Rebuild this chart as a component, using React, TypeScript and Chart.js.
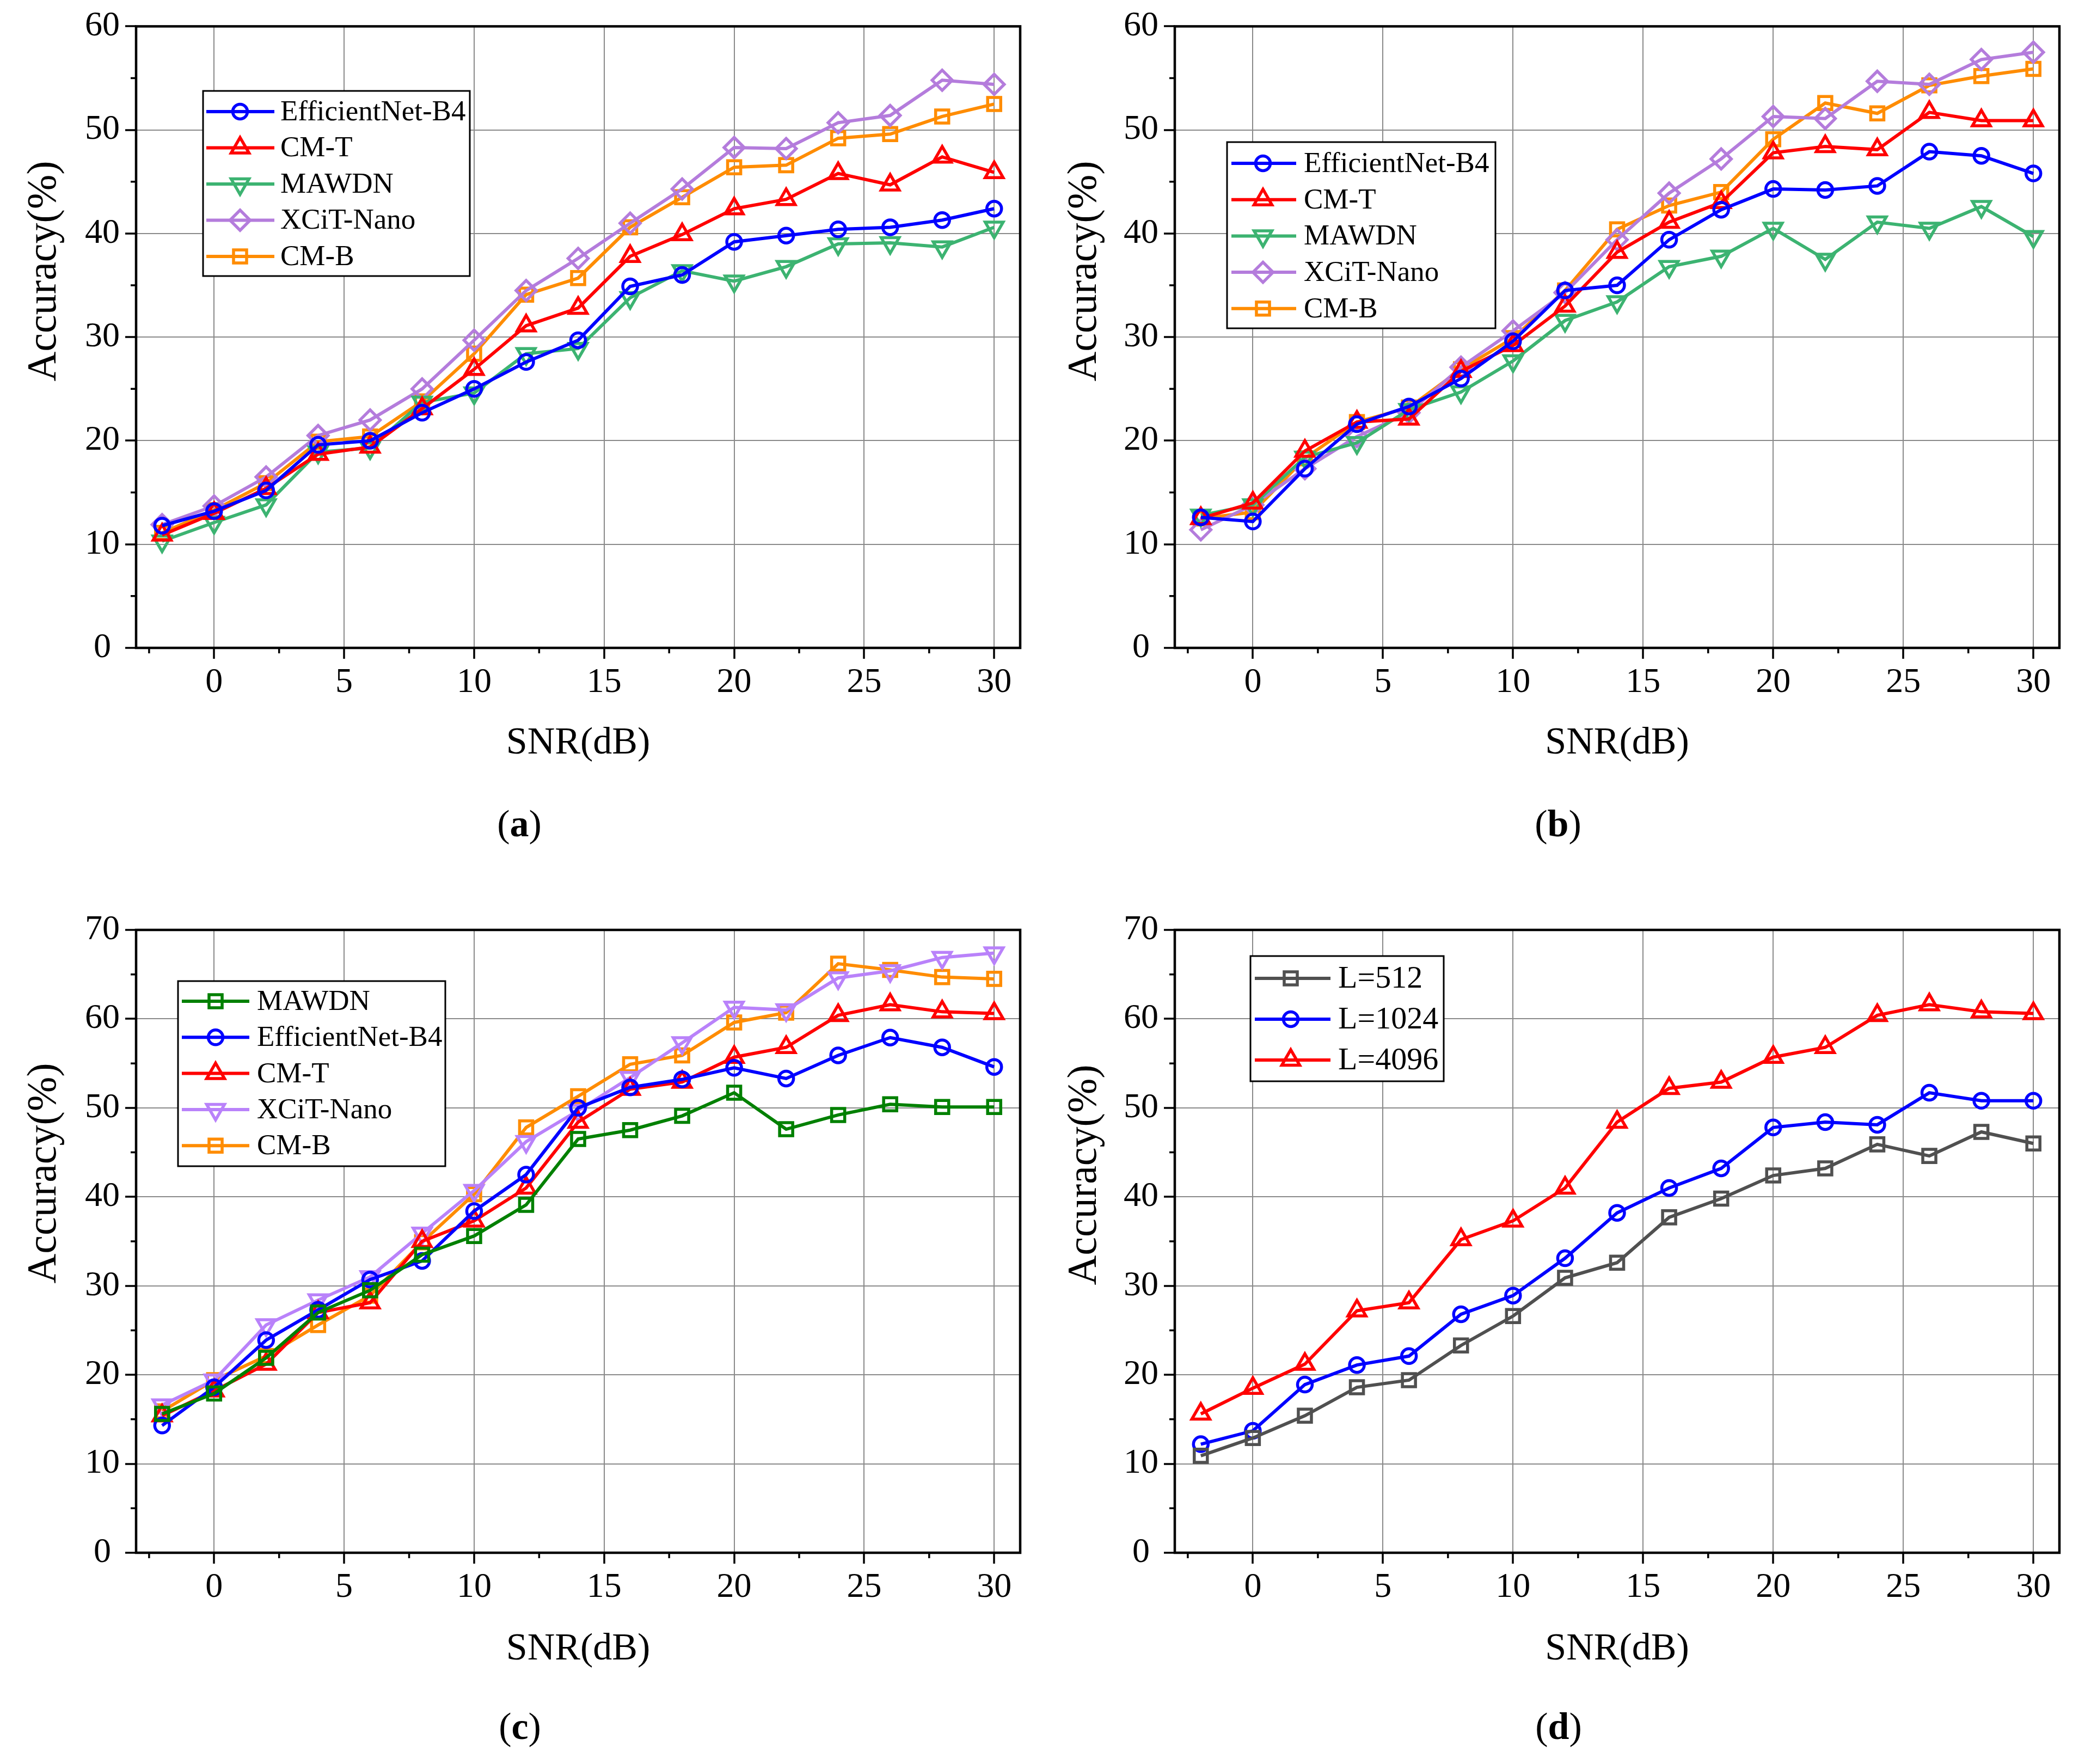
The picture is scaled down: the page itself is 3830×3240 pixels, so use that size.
import React, { useEffect, useRef } from "react";
import { Chart, registerables } from "chart.js";

Chart.register(...registerables);

const SERIF = '"Liberation Serif", "Times New Roman", serif';

// ---------- data ----------
const snrDb = [-2, 0, 2, 4, 6, 8, 10, 12, 14, 16, 18, 20, 22, 24, 26, 28, 30];
const xTickValues = [0, 5, 10, 15, 20, 25, 30];
const xMinorValues = [-2.5, 2.5, 7.5, 12.5, 17.5, 22.5, 27.5];
const yMinorAB = [5, 15, 25, 35, 45, 55];
const yMinorCD = [5, 15, 25, 35, 45, 55, 65];

// panel (a)
const aEfficientNet = [11.8, 13.2, 15.2, 19.6, 20.0, 22.7, 25.0, 27.6, 29.7, 34.9, 36.0, 39.2, 39.8, 40.4, 40.6, 41.3, 42.4];
const aCMT = [10.9, 13.0, 15.4, 18.7, 19.4, 23.1, 26.9, 31.1, 32.8, 37.8, 39.9, 42.4, 43.3, 45.8, 44.7, 47.4, 45.9];
const aMAWDN = [10.3, 12.1, 13.8, 18.9, 19.3, 23.7, 24.6, 28.4, 28.9, 33.8, 36.4, 35.4, 36.8, 39.0, 39.1, 38.7, 40.6];
const aXCiT = [11.9, 13.7, 16.5, 20.5, 22.0, 25.0, 29.7, 34.5, 37.6, 41.0, 44.3, 48.3, 48.2, 50.7, 51.4, 54.8, 54.4];
const aCMB = [11.1, 13.3, 15.9, 19.9, 20.4, 23.8, 28.4, 34.1, 35.7, 40.6, 43.5, 46.4, 46.6, 49.2, 49.6, 51.3, 52.5];

// panel (b)
const bEfficientNet = [12.6, 12.2, 17.3, 21.6, 23.3, 26.0, 29.6, 34.5, 35.0, 39.4, 42.3, 44.3, 44.2, 44.6, 47.9, 47.5, 45.8];
const bCMT = [12.5, 14.0, 19.0, 21.8, 22.1, 26.7, 29.2, 33.0, 38.2, 41.1, 43.0, 47.8, 48.4, 48.1, 51.7, 50.9, 50.9];
const bMAWDN = [12.8, 13.8, 18.4, 19.8, 23.0, 24.7, 27.7, 31.6, 33.4, 36.8, 37.8, 40.5, 37.5, 41.1, 40.5, 42.6, 39.7];
const bXCiT = [11.4, 13.8, 17.3, 20.4, 22.7, 27.1, 30.6, 34.3, 39.4, 43.9, 47.2, 51.3, 51.1, 54.7, 54.4, 56.8, 57.5];
const bCMB = [12.5, 13.1, 18.3, 21.8, 23.2, 26.9, 29.9, 34.5, 40.4, 42.7, 44.0, 49.1, 52.6, 51.6, 54.3, 55.2, 55.9];

// panel (c)
const cMAWDN = [15.6, 17.9, 21.9, 27.0, 29.5, 33.5, 35.6, 39.1, 46.5, 47.5, 49.1, 51.7, 47.6, 49.2, 50.4, 50.1, 50.1];
const cEfficientNet = [14.3, 18.6, 23.9, 27.3, 30.7, 32.8, 38.4, 42.5, 50.0, 52.3, 53.2, 54.5, 53.3, 55.9, 57.9, 56.8, 54.6];
const cCMT = [15.4, 18.2, 21.2, 27.0, 28.1, 35.0, 37.3, 41.0, 48.4, 52.1, 52.9, 55.7, 56.8, 60.4, 61.6, 60.8, 60.6];
const cXCiT = [16.6, 19.4, 25.6, 28.4, 31.0, 35.9, 40.7, 46.2, 49.7, 53.4, 57.3, 61.3, 61.0, 64.6, 65.4, 66.9, 67.4];
const cCMB = [15.9, 19.4, 22.1, 25.6, 28.9, 34.9, 40.3, 47.8, 51.3, 54.9, 55.9, 59.6, 60.7, 66.2, 65.5, 64.7, 64.5];

// panel (d)
const dL512 = [10.9, 12.9, 15.4, 18.6, 19.4, 23.3, 26.6, 30.9, 32.6, 37.7, 39.8, 42.4, 43.2, 45.9, 44.6, 47.3, 46.0];
const dL1024 = [12.2, 13.7, 18.9, 21.1, 22.1, 26.8, 28.9, 33.1, 38.2, 41.0, 43.2, 47.8, 48.4, 48.1, 51.7, 50.8, 50.8];
const dL4096 = [15.6, 18.5, 21.2, 27.2, 28.1, 35.2, 37.3, 41.0, 48.4, 52.2, 52.9, 55.7, 56.8, 60.4, 61.6, 60.8, 60.6];

// ---------- styles ----------
const BLUE = "#0000ff";
const RED = "#ff0000";
const GREEN_A = "#3cb371";
const PURPLE_A = "#b47cdc";
const ORANGE = "#ff8c00";
const GREEN_C = "#008000";
const PURPLE_C = "#b982fa";
const GRAY = "#505050";

type Marker = "circle" | "triangle" | "triangleDown" | "rect" | "rectRot";
const markerRadius: Record<Marker, number> = {
  circle: 13.5,
  triangle: 19,
  triangleDown: 19,
  rect: 17,
  rectRot: 18.5,
};

interface SeriesDef {
  label: string;
  values: number[];
  color: string;
  marker: Marker;
}

interface LegendDef {
  box: [number, number, number, number];
  y0: number;
  dy: number;
  lineX1: number;
  lineX2: number;
  markerX: number;
  textX: number;
  font: number;
}

interface PanelDef {
  id: string;
  letter: string;
  left: number;
  top: number;
  width: number;
  height: number;
  plot: { l: number; t: number; r: number; b: number };
  yMax: number;
  yMinor: number[];
  series: SeriesDef[];
  legend: LegendDef;
  yTitle: { x: number; y: number };
  xTitleY: number;
  label: { x: number; y: number };
}

const panels: PanelDef[] = [
  {
    id: "a",
    letter: "a",
    left: 0,
    top: 0,
    width: 1915,
    height: 1620,
    plot: { l: 250, t: 46, r: 1874, b: 1190 },
    yMax: 60,
    yMinor: yMinorAB,
    series: [
      { label: "EfficientNet-B4", values: aEfficientNet, color: BLUE, marker: "circle" },
      { label: "CM-T", values: aCMT, color: RED, marker: "triangle" },
      { label: "MAWDN", values: aMAWDN, color: GREEN_A, marker: "triangleDown" },
      { label: "XCiT-Nano", values: aXCiT, color: PURPLE_A, marker: "rectRot" },
      { label: "CM-B", values: aCMB, color: ORANGE, marker: "rect" },
    ],
    legend: { box: [373, 167, 863, 507], y0: 205, dy: 66.5, lineX1: 379, lineX2: 504, markerX: 441, textX: 515, font: 53 },
    yTitle: { x: 82, y: 498 },
    xTitleY: 1366,
    label: { x: 954, y: 1518 },
  },
  {
    id: "b",
    letter: "b",
    left: 1915,
    top: 0,
    width: 1915,
    height: 1620,
    plot: { l: 243, t: 46, r: 1868, b: 1190 },
    yMax: 60,
    yMinor: yMinorAB,
    series: [
      { label: "EfficientNet-B4", values: bEfficientNet, color: BLUE, marker: "circle" },
      { label: "CM-T", values: bCMT, color: RED, marker: "triangle" },
      { label: "MAWDN", values: bMAWDN, color: GREEN_A, marker: "triangleDown" },
      { label: "XCiT-Nano", values: bXCiT, color: PURPLE_A, marker: "rectRot" },
      { label: "CM-B", values: bCMB, color: ORANGE, marker: "rect" },
    ],
    legend: { box: [339, 261, 832, 603], y0: 300, dy: 66.7, lineX1: 347, lineX2: 466, markerX: 405, textX: 480, font: 53 },
    yTitle: { x: 78, y: 498 },
    xTitleY: 1366,
    label: { x: 947, y: 1518 },
  },
  {
    id: "c",
    letter: "c",
    left: 0,
    top: 1620,
    width: 1915,
    height: 1620,
    plot: { l: 250, t: 88, r: 1874, b: 1232 },
    yMax: 70,
    yMinor: yMinorCD,
    series: [
      { label: "MAWDN", values: cMAWDN, color: GREEN_C, marker: "rect" },
      { label: "EfficientNet-B4", values: cEfficientNet, color: BLUE, marker: "circle" },
      { label: "CM-T", values: cCMT, color: RED, marker: "triangle" },
      { label: "XCiT-Nano", values: cXCiT, color: PURPLE_C, marker: "triangleDown" },
      { label: "CM-B", values: cCMB, color: ORANGE, marker: "rect" },
    ],
    legend: { box: [327, 182, 818, 522], y0: 219, dy: 66.3, lineX1: 334, lineX2: 458, markerX: 396, textX: 472, font: 53 },
    yTitle: { x: 82, y: 535 },
    xTitleY: 1410,
    label: { x: 955, y: 1556 },
  },
  {
    id: "d",
    letter: "d",
    left: 1915,
    top: 1620,
    width: 1915,
    height: 1620,
    plot: { l: 243, t: 88, r: 1868, b: 1232 },
    yMax: 70,
    yMinor: yMinorCD,
    series: [
      { label: "L=512", values: dL512, color: GRAY, marker: "rect" },
      { label: "L=1024", values: dL1024, color: BLUE, marker: "circle" },
      { label: "L=4096", values: dL4096, color: RED, marker: "triangle" },
    ],
    legend: { box: [382, 136, 737, 366], y0: 177, dy: 75, lineX1: 390, lineX2: 529, markerX: 456, textX: 543, font: 58 },
    yTitle: { x: 78, y: 538 },
    xTitleY: 1410,
    label: { x: 948, y: 1556 },
  },
];

const LINE_W = 6;
const MARKER_W = 5.5;

function drawMarker(ctx: CanvasRenderingContext2D, m: Marker, x: number, y: number, color: string) {
  const r = markerRadius[m];
  ctx.save();
  ctx.strokeStyle = color;
  ctx.lineWidth = MARKER_W;
  ctx.beginPath();
  if (m === "circle") {
    ctx.arc(x, y, r, 0, Math.PI * 2);
  } else if (m === "triangle" || m === "triangleDown") {
    let rad = m === "triangle" ? 0 : Math.PI;
    for (let i = 0; i < 3; i++) {
      const px = x + Math.sin(rad) * r;
      const py = y - Math.cos(rad) * r;
      if (i === 0) ctx.moveTo(px, py);
      else ctx.lineTo(px, py);
      rad += (Math.PI * 2) / 3;
    }
    ctx.closePath();
  } else if (m === "rect") {
    const s = Math.SQRT1_2 * r;
    ctx.rect(x - s, y - s, 2 * s, 2 * s);
  } else {
    ctx.moveTo(x - r, y);
    ctx.lineTo(x, y - r);
    ctx.lineTo(x + r, y);
    ctx.lineTo(x, y + r);
    ctx.closePath();
  }
  ctx.stroke();
  ctx.restore();
}

function decorPlugin(p: PanelDef) {
  return {
    id: "decor_" + p.id,
    afterDraw(chart: any) {
      const ctx: CanvasRenderingContext2D = chart.ctx;
      const a = chart.chartArea;
      const xs = chart.scales.x;
      const ys = chart.scales.y;
      ctx.save();

      // minor ticks
      ctx.strokeStyle = "#000";
      ctx.lineWidth = 3.5;
      ctx.beginPath();
      xMinorValues.forEach((v) => {
        const px = xs.getPixelForValue(v);
        ctx.moveTo(px, a.bottom);
        ctx.lineTo(px, a.bottom + 10);
      });
      p.yMinor.forEach((v) => {
        const py = ys.getPixelForValue(v);
        ctx.moveTo(a.left, py);
        ctx.lineTo(a.left - 10, py);
      });
      ctx.stroke();

      // frame
      ctx.lineWidth = 4.5;
      ctx.strokeRect(a.left, a.top, a.right - a.left, a.bottom - a.top);

      // legend
      const L = p.legend;
      ctx.fillStyle = "#fff";
      ctx.fillRect(L.box[0], L.box[1], L.box[2] - L.box[0], L.box[3] - L.box[1]);
      ctx.lineWidth = 3;
      ctx.strokeStyle = "#000";
      ctx.strokeRect(L.box[0], L.box[1], L.box[2] - L.box[0], L.box[3] - L.box[1]);
      p.series.forEach((s, i) => {
        const y = L.y0 + i * L.dy;
        ctx.strokeStyle = s.color;
        ctx.lineWidth = LINE_W;
        ctx.beginPath();
        ctx.moveTo(L.lineX1, y);
        ctx.lineTo(L.lineX2, y);
        ctx.stroke();
        drawMarker(ctx, s.marker, L.markerX, y, s.color);
        ctx.fillStyle = "#000";
        ctx.font = `${L.font}px ${SERIF}`;
        ctx.textAlign = "left";
        ctx.textBaseline = "middle";
        ctx.fillText(s.label, L.textX, y + 2);
      });

      // axis titles
      ctx.fillStyle = "#000";
      ctx.font = `76px ${SERIF}`;
      ctx.textAlign = "center";
      ctx.textBaseline = "middle";
      ctx.save();
      ctx.translate(p.yTitle.x, p.yTitle.y);
      ctx.rotate(-Math.PI / 2);
      ctx.fillText("Accuracy(%)", 0, 0);
      ctx.restore();

      ctx.font = `70px ${SERIF}`;
      ctx.fillText("SNR(dB)", (a.left + a.right) / 2, p.xTitleY);

      // panel label "(x)" with bold letter
      const reg = `70px ${SERIF}`;
      const bold = `bold 70px ${SERIF}`;
      ctx.font = reg;
      const wp1 = ctx.measureText("(").width;
      const wp2 = ctx.measureText(")").width;
      ctx.font = bold;
      const wl = ctx.measureText(p.letter).width;
      const total = wp1 + wl + wp2;
      let x = p.label.x - total / 2;
      ctx.textAlign = "left";
      ctx.font = reg;
      ctx.fillText("(", x, p.label.y);
      x += wp1;
      ctx.font = bold;
      ctx.fillText(p.letter, x, p.label.y);
      x += wl;
      ctx.font = reg;
      ctx.fillText(")", x, p.label.y);

      ctx.restore();
    },
  };
}

function buildConfig(p: PanelDef): any {
  const datasets = p.series.map((s) => ({
    label: s.label,
    data: snrDb.map((x, i) => ({ x, y: s.values[i] })),
    borderColor: s.color,
    backgroundColor: s.color,
    borderWidth: LINE_W,
    tension: 0,
    pointStyle: s.marker === "triangleDown" ? "triangle" : s.marker,
    pointRotation: s.marker === "triangleDown" ? 180 : 0,
    pointRadius: markerRadius[s.marker],
    pointBorderWidth: MARKER_W,
    pointBorderColor: s.color,
    pointBackgroundColor: "rgba(0,0,0,0)",
    showLine: true,
    fill: false,
  }));
  const tickFont = { family: SERIF, size: 64 };
  return {
    type: "line",
    data: { datasets },
    options: {
      animation: false,
      responsive: false,
      devicePixelRatio: 1,
      layout: {
        padding: { left: 0, top: p.plot.t, right: p.width - p.plot.r, bottom: 0 },
      },
      plugins: {
        legend: { display: false },
        tooltip: { enabled: false },
        title: { display: false },
      },
      scales: {
        x: {
          type: "linear",
          min: -3,
          max: 31,
          afterBuildTicks: (s: any) => {
            s.ticks = xTickValues.map((v) => ({ value: v }));
          },
          afterFit: (s: any) => {
            s.height = p.height - p.plot.b;
          },
          border: { display: false },
          grid: {
            color: "#8a8a8a",
            lineWidth: 2,
            drawTicks: true,
            tickLength: 20,
            tickColor: "#000",
            tickWidth: 3.5,
          },
          ticks: {
            font: tickFont,
            color: "#000",
            padding: 6,
            maxRotation: 0,
            autoSkip: false,
          },
        },
        y: {
          type: "linear",
          min: 0,
          max: p.yMax,
          afterFit: (s: any) => {
            s.width = p.plot.l;
          },
          border: { display: false },
          grid: {
            color: "#8a8a8a",
            lineWidth: 2,
            drawTicks: true,
            tickLength: 20,
            tickColor: "#000",
            tickWidth: 3.5,
          },
          ticks: {
            stepSize: 10,
            font: tickFont,
            color: "#000",
            padding: 10,
            crossAlign: "center",
          },
        },
      },
    },
    plugins: [decorPlugin(p)],
  };
}

function Panel({ p }: { p: PanelDef }) {
  const ref = useRef<HTMLCanvasElement | null>(null);
  useEffect(() => {
    if (!ref.current) return;
    const chart = new Chart(ref.current, buildConfig(p));
    return () => chart.destroy();
  }, [p]);
  return (
    <div style={{ position: "absolute", left: p.left, top: p.top, width: p.width, height: p.height }}>
      <canvas ref={ref} width={p.width} height={p.height} style={{ width: p.width, height: p.height, display: "block" }} />
    </div>
  );
}

export default function App() {
  return (
    <div style={{ position: "absolute", left: 0, top: 0, width: 3830, height: 3240, background: "#fff", overflow: "hidden" }}>
      {panels.map((p) => (
        <Panel key={p.id} p={p} />
      ))}
    </div>
  );
}
